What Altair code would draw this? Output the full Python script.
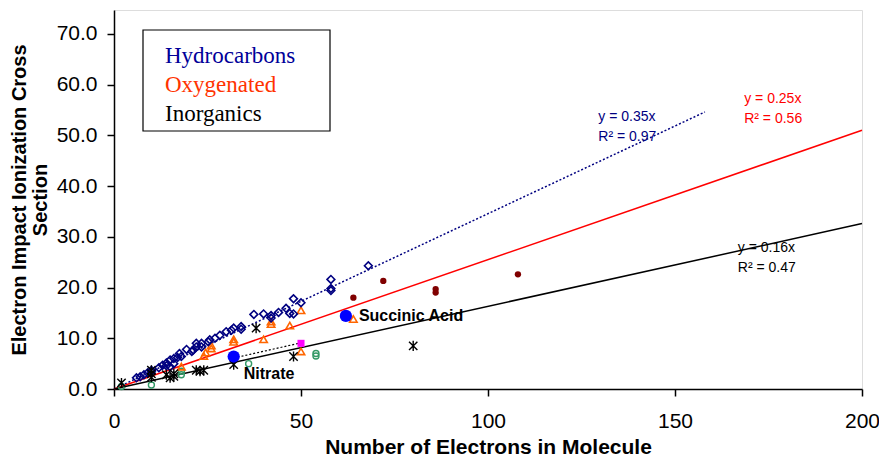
import altair as alt
import pandas as pd

# ---------------- data ----------------
hc_x = [6, 7, 8, 9, 10, 10, 12, 13, 14, 14, 15, 15, 16, 16, 17, 17.5, 18, 19.4, 20.8, 21.2, 22, 22,
        23.4, 23.4, 25.2, 25.6, 27, 28.3, 30, 31.4, 32, 34, 34, 37.4, 40, 42, 42, 44, 46, 47, 48,
        48, 50, 58, 58, 58, 68]
hc_y = [2.2, 2.4, 2.8, 3.2, 3.7, 3.4, 4.2, 4.7, 5.1, 4.6, 5.7, 4.4, 6.0, 5.0, 6.2, 7.0, 6.4, 7.8, 7.4,
        7.7, 8.3, 9.0, 9.0, 8.3, 9.3, 9.7, 10.0, 10.6, 11.3, 11.6, 12.0, 12.3, 11.8, 14.7, 14.8, 14.5,
        14.0, 15.1, 15.9, 14.9, 14.8, 17.8, 17.0, 21.6, 19.8, 19.4, 24.3]

oxy_x = [18, 24, 24.5, 26, 26, 32, 32, 40, 42, 42, 47, 50, 50, 64]
oxy_y = [4.4, 6.5, 7.2, 8.0, 8.6, 9.3, 9.8, 9.8, 12.8, 13.3, 12.5, 15.5, 7.4, 13.8]

darkred_x = [64, 72, 86, 86, 108]
darkred_y = [18.0, 21.3, 19.7, 19.0, 22.6]

inorg_x = [2, 10, 10, 10, 14, 15, 16, 16, 22, 23, 24, 32, 38, 48, 80]
inorg_y = [1.2, 3.7, 3.0, 2.3, 2.8, 2.2, 2.5, 3.0, 3.7, 3.5, 3.7, 4.8, 12.0, 6.4, 8.5]

green_x = [2, 10, 18, 18, 36, 54, 54]
green_y = [0.5, 0.8, 3.5, 2.8, 5.0, 7.0, 6.5]

magenta_x = [50]
magenta_y = [9.0]

nitrate_x = [32]
nitrate_y = [6.4]
succinic_x = [62]
succinic_y = [14.4]

# trend lines (endpoints of the fitted lines)
hc_trend_x = [0, 158]
hc_trend_y = [0, 54.6]
oxy_trend_x = [0, 200]
oxy_trend_y = [0, 51.0]
inorg_trend_x = [0, 200]
inorg_trend_y = [0, 32.6]
nitrate_trend_x = [32, 50]
nitrate_trend_y = [6.1, 9.1]

eq_text = ["y = 0.35x", "R² = 0.97", "y = 0.25x", "R² = 0.56", "y = 0.16x", "R² = 0.47"]
eq_x = [129.5, 129.5, 168.5, 168.5, 166.8, 166.8]
eq_y = [53.6, 49.6, 57.2, 53.3, 27.8, 23.9]
eq_color = ["#000080", "#000080", "#FF0000", "#FF0000", "#000000", "#000000"]

legend_labels = ["Hydrocarbons", "Oxygenated", "Inorganics"]
legend_colors = ["#000099", "#FF3300", "#000000"]

x_ticks = [0, 50, 100, 150, 200]
y_ticks = [0, 10, 20, 30, 40, 50, 60, 70]

# ---------------- chart ----------------
xs = alt.Scale(domain=[0, 200], nice=False, zero=False)
ys = alt.Scale(domain=[0, 74.7], nice=False, zero=False)

X = alt.X("x:Q", scale=xs, axis=alt.Axis(
    values=x_ticks, title="Number of Electrons in Molecule", format="d",
    labelFontSize=21, labelFont="Arial", labelColor="black", tickSize=7, tickColor="black",
    tickWidth=1.5, domainColor="black", domainWidth=1.5, labelPadding=14, grid=False,
    labelFlush=False, labelOverlap=False,
    titleFont="Arial", titleFontSize=21, titleFontWeight="bold", titleColor="black",
    titlePadding=5))
Y = alt.Y("y:Q", scale=ys, axis=alt.Axis(
    values=y_ticks, title=["Electron Impact Ionization Cross", "Section"], format=".1f",
    labelFontSize=21, labelFont="Arial", labelColor="black", tickSize=7, tickColor="black",
    tickWidth=1.5, domainColor="black", domainWidth=1.5, labelPadding=10, grid=False,
    labelFlush=False, labelOverlap=False,
    titleFont="Arial", titleFontSize=20, titleFontWeight="bold", titleColor="black",
    titlePadding=6, titleLineHeight=21))


def df(x, y, **extra):
    d = pd.DataFrame({"x": x, "y": y})
    for k, v in extra.items():
        d[k] = v
    return d


base = alt.Chart(df([0], [0])).mark_point(opacity=0).encode(x=X, y=Y)

lines = [
    alt.Chart(df(hc_trend_x, hc_trend_y)).mark_line(color="#000080", strokeWidth=1.5,
                                                     strokeDash=[2, 2]).encode(x=X, y=Y),
    alt.Chart(df(oxy_trend_x, oxy_trend_y)).mark_line(color="#FF0000", strokeWidth=1.5).encode(x=X, y=Y),
    alt.Chart(df(inorg_trend_x, inorg_trend_y)).mark_line(color="black", strokeWidth=1.5).encode(x=X, y=Y),
    alt.Chart(df(nitrate_trend_x, nitrate_trend_y)).mark_line(color="black", strokeWidth=1.2,
                                                               strokeDash=[2, 2]).encode(x=X, y=Y),
]

star_path = "M-1,-1L1,1M-1,1L1,-1M0,-1.2L0,1.2"

points = [
    alt.Chart(df(green_x, green_y)).mark_point(shape="circle", size=36, filled=False,
                                               color="#339966", strokeWidth=1.4, opacity=1).encode(x=X, y=Y),
    alt.Chart(df(oxy_x, oxy_y)).mark_point(shape="triangle-up", size=55, filled=False,
                                           color="#FF6600", strokeWidth=1.6, opacity=1).encode(x=X, y=Y),
    alt.Chart(df(hc_x, hc_y)).mark_point(shape="diamond", size=60, filled=False,
                                         color="#000080", strokeWidth=1.6, opacity=1).encode(x=X, y=Y),
    alt.Chart(df(inorg_x, inorg_y)).mark_point(shape=star_path, size=70, filled=False,
                                               color="black", strokeWidth=1.4, opacity=1).encode(x=X, y=Y),
    alt.Chart(df(darkred_x, darkred_y)).mark_point(shape="circle", size=40, filled=True,
                                                   color="#800000", opacity=1).encode(x=X, y=Y),
    alt.Chart(df(magenta_x, magenta_y)).mark_point(shape="square", size=50, filled=True,
                                                   color="#FF00FF", opacity=1).encode(x=X, y=Y),
    alt.Chart(df(nitrate_x + succinic_x, nitrate_y + succinic_y)).mark_point(
        shape="circle", size=150, filled=True, color="#0000FF", opacity=1).encode(x=X, y=Y),
]

nitrate_label = alt.Chart(df(nitrate_x, nitrate_y, label=["Nitrate"])).mark_text(
    font="Arial", fontSize=16, fontWeight="bold", color="black", align="left", baseline="middle",
    dx=10, dy=17).encode(x=X, y=Y, text="label:N")
succinic_label = alt.Chart(df(succinic_x, succinic_y, label=["Succinic Acid"])).mark_text(
    font="Arial", fontSize=16, fontWeight="bold", color="black", align="left", baseline="middle",
    dx=13, dy=0).encode(x=X, y=Y, text="label:N")

eqs = alt.Chart(df(eq_x, eq_y, t=eq_text, c=eq_color)).mark_text(
    font="Arial", fontSize=14, align="left", baseline="middle").encode(
    x=X, y=Y, text="t:N", color=alt.Color("c:N", scale=None))

legend_box = alt.Chart(df([0], [0])).mark_rect(
    fill="white", stroke="black", strokeWidth=1.2).encode(
    x=alt.value(29), x2=alt.value(216), y=alt.value(20), y2=alt.value(121))

legend_text = alt.Chart(pd.DataFrame({"t": legend_labels, "c": legend_colors,
                                      "py": [53, 82, 111]})).mark_text(
    font="Liberation Serif", fontSize=23, align="left", baseline="alphabetic").encode(
    x=alt.value(51), y=alt.Y("py:Q", scale=None), text="t:N", color=alt.Color("c:N", scale=None))

chart = alt.layer(base, *lines, *points, nitrate_label, succinic_label, eqs,
                  legend_box, legend_text).properties(
    width=748, height=379,
    autosize=alt.AutoSizeParams(type="none"),
    padding={"left": 106, "top": 2, "right": 17, "bottom": 67},
).configure_view(stroke="black", strokeWidth=1.2).configure(background="white")

chart.save("out.html", embed_options={"renderer": "svg", "actions": False})
